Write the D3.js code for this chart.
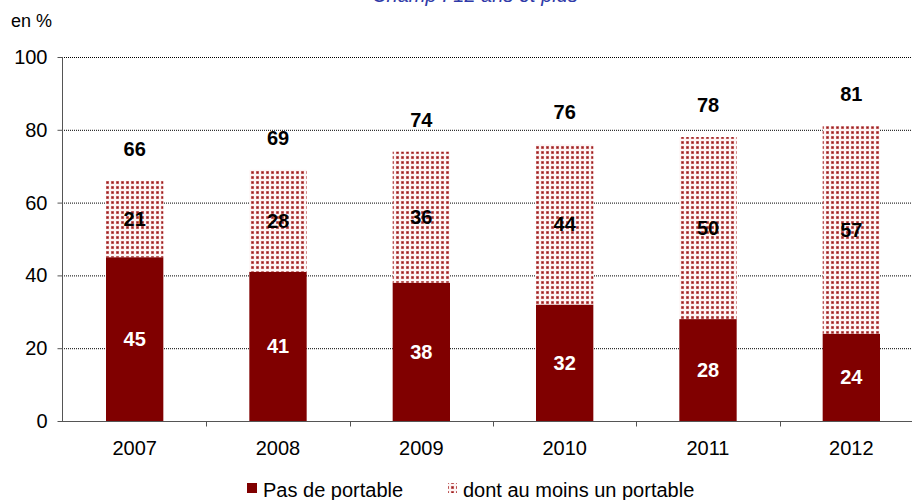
<html>
<head>
<meta charset="utf-8">
<script src="https://d3js.org/d3.v7.min.js"></script>
<style>
  body { margin: 0; padding: 0; background: #fff; }
  text { font-family: "Liberation Sans", Arial, sans-serif; }
</style>
</head>
<body>
<script>
// data
var years = ["2007", "2008", "2009", "2010", "2011", "2012"];
var sansPortable = [45, 41, 38, 32, 28, 24];
var avecPortable = [21, 28, 36, 44, 50, 57];
var totals = [66, 69, 74, 76, 78, 81];
var yTicks = [0, 20, 40, 60, 80, 100];
var seriesNames = ["Pas de portable", "dont au moins un portable"];

var w = 916, h = 500;
var svg = d3.select("body").append("svg").attr("width", w).attr("height", h);

var x = d3.scaleBand().domain(years).range([63, 923]).paddingInner(0.6).paddingOuter(0.3);
var y = d3.scaleLinear().domain([0, 100]).range([421, 57]);
var plotRight = 912;

// dotted pattern
var defs = svg.append("defs");
var pat = defs.append("pattern").attr("id", "dots")
    .attr("patternUnits", "userSpaceOnUse").attr("width", 5).attr("height", 5);
pat.append("rect").attr("width", 5).attr("height", 5).attr("fill", "#fdf4f4");
pat.append("rect").attr("x", 1).attr("y", 1).attr("width", 3).attr("height", 3).attr("fill", "#cc7878");
pat.append("rect").attr("x", 1.6).attr("y", 1.6).attr("width", 1.8).attr("height", 1.8).attr("fill", "#9c1c1c");

// title (cut at top)
svg.append("text").attr("x", 475).attr("y", 1.5).attr("text-anchor", "middle")
  .attr("font-size", 20).attr("font-style", "italic").attr("fill", "#2f3aa8")
  .text("Champ : 12 ans et plus");

svg.append("text").attr("x", 11).attr("y", 27).attr("font-size", 18).attr("fill", "#000").text("en %");

// grid lines
svg.append("g").selectAll("line").data(yTicks.filter(function(d) { return d > 0; }))
  .enter().append("line")
  .attr("x1", 62).attr("x2", plotRight)
  .attr("y1", function(d) { return y(d) + 0.5; }).attr("y2", function(d) { return y(d) + 0.5; })
  .attr("stroke", "#000").attr("stroke-width", 1).attr("stroke-dasharray", "1,1");

// bars
var lower = svg.append("g");
lower.selectAll("rect").data(years).enter().append("rect")
  .attr("x", function(d) { return x(d); })
  .attr("width", x.bandwidth())
  .attr("y", function(d, i) { return y(sansPortable[i]); })
  .attr("height", function(d, i) { return y(0) - y(sansPortable[i]); })
  .attr("fill", "#800000");

var upper = svg.append("g");
upper.selectAll("rect").data(years).enter().append("rect")
  .attr("x", function(d) { return x(d); })
  .attr("width", x.bandwidth())
  .attr("y", function(d, i) { return y(sansPortable[i] + avecPortable[i]); })
  .attr("height", function(d, i) { return y(sansPortable[i]) - y(sansPortable[i] + avecPortable[i]); })
  .attr("fill", "url(#dots)");

// value labels
svg.append("g").selectAll("text").data(years).enter().append("text")
  .attr("x", function(d) { return x(d) + x.bandwidth() / 2; })
  .attr("y", function(d, i) { return y(sansPortable[i] / 2) + 7; })
  .attr("text-anchor", "middle").attr("font-size", 20).attr("font-weight", "bold").attr("fill", "#fff")
  .text(function(d, i) { return sansPortable[i]; });

svg.append("g").selectAll("text").data(years).enter().append("text")
  .attr("x", function(d) { return x(d) + x.bandwidth() / 2; })
  .attr("y", function(d, i) { return y(sansPortable[i] + avecPortable[i] / 2) + 7; })
  .attr("text-anchor", "middle").attr("font-size", 20).attr("font-weight", "bold").attr("fill", "#000")
  .text(function(d, i) { return avecPortable[i]; });

svg.append("g").selectAll("text").data(years).enter().append("text")
  .attr("x", function(d) { return x(d) + x.bandwidth() / 2; })
  .attr("y", function(d, i) { return y(totals[i]) - 25; })
  .attr("text-anchor", "middle").attr("font-size", 20).attr("font-weight", "bold").attr("fill", "#000")
  .text(function(d, i) { return totals[i]; });

// y axis
var yAxis = svg.append("g").attr("transform", "translate(62.5,0)")
  .call(d3.axisLeft(y).tickValues(yTicks).tickSize(5).tickPadding(10));
yAxis.selectAll("text").attr("font-size", 20).attr("fill", "#000").attr("font-family", "Liberation Sans, Arial, sans-serif");
yAxis.selectAll("line").attr("stroke", "#555");
yAxis.select(".domain").attr("stroke", "#555").attr("d", "M0," + y(100) + "V" + (y(0) + 0.5));

// x axis
var xg = svg.append("g").attr("transform", "translate(0," + (y(0) + 0.5) + ")");
xg.append("line").attr("x1", 58).attr("x2", plotRight).attr("stroke", "#555");
xg.selectAll("line.tk").data(years.slice(1)).enter().append("line").attr("class", "tk")
  .attr("x1", function(d) { return Math.round(x(d) - x.step() * x.paddingInner() / 2) + 0.5; })
  .attr("x2", function(d) { return Math.round(x(d) - x.step() * x.paddingInner() / 2) + 0.5; })
  .attr("y1", 0).attr("y2", 5).attr("stroke", "#555");
xg.selectAll("text").data(years).enter().append("text")
  .attr("x", function(d) { return x(d) + x.bandwidth() / 2; })
  .attr("y", 33).attr("text-anchor", "middle").attr("font-size", 20).attr("fill", "#000")
  .text(function(d) { return d; });

// legend
var leg = svg.append("g");
leg.append("rect").attr("x", 247).attr("y", 483).attr("width", 10).attr("height", 10).attr("fill", "#800000");
leg.append("text").attr("x", 263).attr("y", 497).attr("font-size", 20).attr("fill", "#000").text(seriesNames[0]);
leg.append("rect").attr("x", 448).attr("y", 483).attr("width", 9).attr("height", 10).attr("fill", "url(#dots)");
leg.append("text").attr("x", 463).attr("y", 497).attr("font-size", 20).attr("fill", "#000").text(seriesNames[1]);
</script>
</body>
</html>
